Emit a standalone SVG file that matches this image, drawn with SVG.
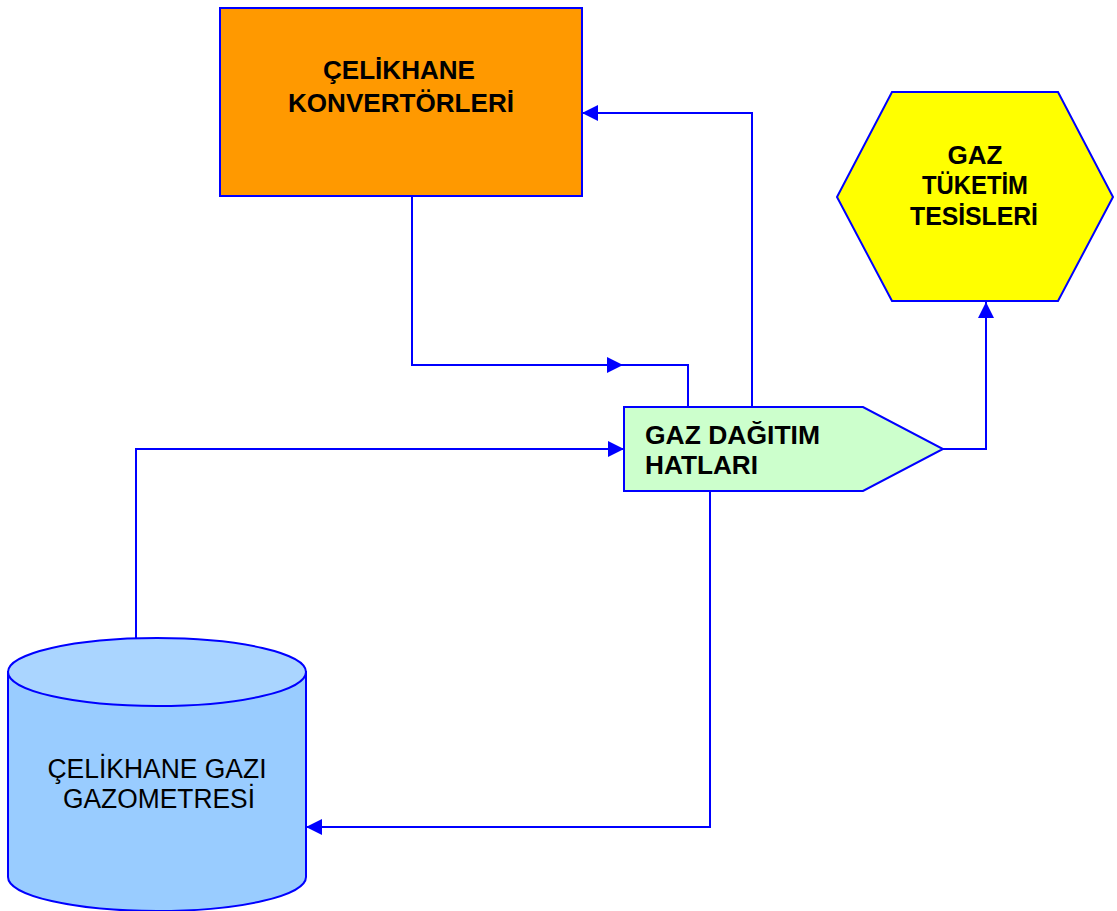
<svg xmlns="http://www.w3.org/2000/svg" width="1117" height="911" viewBox="0 0 1117 911">
<style>
.shape{stroke:#0000FF;stroke-width:2}
.conn{fill:none;stroke:#0000FF;stroke-width:2}
.b{font-family:"Liberation Sans",Arial,sans-serif;font-weight:bold;font-size:25px;fill:#000}
.r{font-family:"Liberation Sans",Arial,sans-serif;font-size:27px;fill:#000}
</style>
<defs>
<marker id="arr" markerUnits="userSpaceOnUse" markerWidth="16" markerHeight="16" refX="16" refY="8" orient="auto" viewBox="0 0 16 16">
<path d="M0,0 L16,8 L0,16 z" fill="#0000FF"/>
</marker>
</defs>
<rect width="1117" height="911" fill="#FFFFFF"/>
<g id="connectors">
<path class="conn" d="M412,196 L412,365 L623,365" marker-end="url(#arr)"/>
<path class="conn" d="M622,365 L688,365 L688,407"/>
<path class="conn" d="M752,407 L752,113 L582,113" marker-end="url(#arr)"/>
<path class="conn" d="M136,638 L136,449 L624,449" marker-end="url(#arr)"/>
<path class="conn" d="M943,449 L986,449 L986,302" marker-end="url(#arr)"/>
<path class="conn" d="M710,491 L710,827 L306,827" marker-end="url(#arr)"/>
</g>
<g id="celikhane-konvertorleri">
<rect class="shape" x="220" y="8" width="362" height="188" fill="#FF9900"/>
<text class="b" x="399" y="79" text-anchor="middle" textLength="152" lengthAdjust="spacingAndGlyphs">ÇELİKHANE</text>
<text class="b" x="401" y="112" text-anchor="middle" textLength="226" lengthAdjust="spacingAndGlyphs">KONVERTÖRLERİ</text>
</g>
<g id="gaz-tuketim-tesisleri">
<polygon class="shape" points="892,92 1058,92 1113,197 1058,301 892,301 837,197" fill="#FFFF00"/>
<text class="b" x="975" y="164" text-anchor="middle" textLength="55" lengthAdjust="spacingAndGlyphs">GAZ</text>
<text class="b" x="975" y="194" text-anchor="middle" textLength="106" lengthAdjust="spacingAndGlyphs">TÜKETİM</text>
<text class="b" x="974" y="225" text-anchor="middle" textLength="128" lengthAdjust="spacingAndGlyphs">TESİSLERİ</text>
</g>
<g id="gaz-dagitim-hatlari">
<polygon class="shape" points="624,407 863,407 943,449 863,491 624,491" fill="#CCFFCC"/>
<text class="b" x="645" y="444" textLength="175" lengthAdjust="spacingAndGlyphs">GAZ DAĞITIM</text>
<text class="b" x="645" y="474" textLength="113" lengthAdjust="spacingAndGlyphs">HATLARI</text>
</g>
<g id="celikhane-gazi-gazometresi">
<path class="shape" d="M8,672 L8,877 A149,34 0 0 0 306,877 L306,672 Z" fill="#99CCFF"/>
<ellipse class="shape" cx="157" cy="672" rx="149" ry="34" fill="#AAD5FF"/>
<text class="r" x="157" y="778" text-anchor="middle" textLength="219" lengthAdjust="spacingAndGlyphs">ÇELİKHANE GAZI</text>
<text class="r" x="159" y="808" text-anchor="middle" textLength="192" lengthAdjust="spacingAndGlyphs">GAZOMETRESİ</text>
</g>
</svg>
